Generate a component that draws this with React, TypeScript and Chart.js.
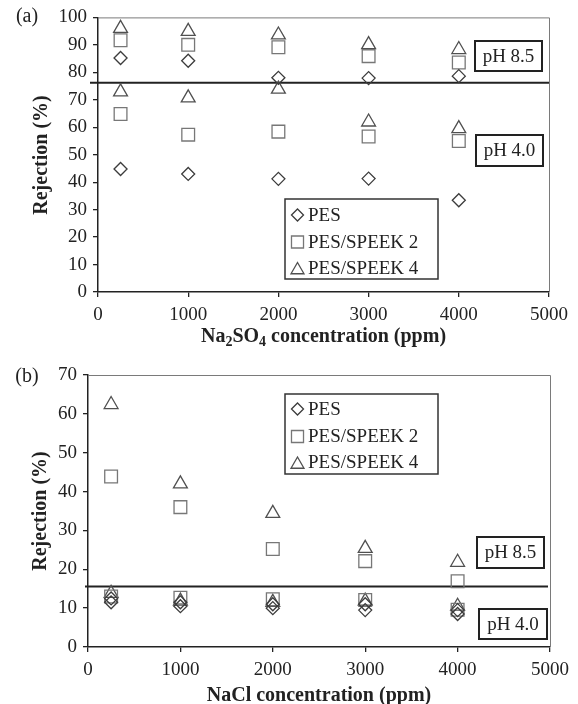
import React, { useEffect, useRef } from "react";
import { Chart, registerables } from "chart.js";

Chart.register(...registerables);

// ---------- data ----------
const concentrations = [250, 1000, 2000, 3000, 4000];
const xTickValues = [0, 1000, 2000, 3000, 4000, 5000];
const yTickValuesA = [0, 10, 20, 30, 40, 50, 60, 70, 80, 90, 100];
const yTickValuesB = [0, 10, 20, 30, 40, 50, 60, 70];
const seriesLabels = ["PES", "PES/SPEEK 2", "PES/SPEEK 4"];

// (a) Na2SO4
const pesA_pH85 = [85.2, 84.2, 78.0, 77.9, 78.6];
const speek2A_pH85 = [91.7, 90.0, 89.1, 85.9, 83.6];
const speek4A_pH85 = [96.0, 94.9, 93.6, 90.1, 88.3];
const pesA_pH40 = [44.8, 43.0, 41.2, 41.3, 33.4];
const speek2A_pH40 = [64.8, 57.3, 58.4, 56.6, 55.0];
const speek4A_pH40 = [72.9, 70.7, 73.9, 61.9, 59.5];
const dividerA = 76.2;

// (b) NaCl
const pesB_pH85 = [12.5, 11.5, 11.0, 11.0, 9.5];
const speek2B_pH85 = [43.9, 36.0, 25.2, 22.1, 16.9];
const speek4B_pH85 = [62.4, 42.0, 34.4, 25.4, 21.8];
const pesB_pH40 = [11.5, 10.5, 10.0, 9.5, 8.5];
const speek2B_pH40 = [13.0, 12.7, 12.3, 12.1, 9.6];
const speek4B_pH40 = [13.8, 11.8, 11.5, 11.8, 10.5];
const dividerB = 15.6;

// ---------- styling ----------
const SERIF = "'Liberation Serif', 'Times New Roman', serif";
const INK = "#222";
const markerStyles = [
  { style: "rectRot", radius: 6.5, color: "#3c3c3c" },
  { style: "rect", radius: 9, color: "#777" },
  { style: "triangle", radius: 8, color: "#505050" },
];

const W = 578;
const H = 352;

function pts(a: number[], b: number[]) {
  return [
    ...concentrations.map((x, i) => ({ x, y: a[i] })),
    ...concentrations.map((x, i) => ({ x, y: b[i] })),
  ];
}

function makeDatasets(series: number[][][]) {
  return series.map((pair, i) => ({
    label: seriesLabels[i],
    data: pts(pair[0], pair[1]),
    pointStyle: markerStyles[i].style,
    pointRadius: markerStyles[i].radius,
    pointHoverRadius: markerStyles[i].radius,
    pointBorderColor: markerStyles[i].color,
    pointBackgroundColor: "rgba(0,0,0,0)",
    pointBorderWidth: 1.3,
    borderColor: markerStyles[i].color,
    backgroundColor: "rgba(0,0,0,0)",
    showLine: false,
  }));
}

function drawMarker(ctx: CanvasRenderingContext2D, style: string, r: number, x: number, y: number) {
  ctx.beginPath();
  if (style === "rectRot") {
    ctx.moveTo(x - r, y);
    ctx.lineTo(x, y - r);
    ctx.lineTo(x + r, y);
    ctx.lineTo(x, y + r);
    ctx.closePath();
  } else if (style === "rect") {
    const s = Math.SQRT1_2 * r;
    ctx.rect(x - s, y - s, 2 * s, 2 * s);
  } else {
    let rad = 0;
    ctx.moveTo(x + Math.sin(rad) * r, y - Math.cos(rad) * r);
    rad += (2 * Math.PI) / 3;
    ctx.lineTo(x + Math.sin(rad) * r, y - Math.cos(rad) * r);
    rad += (2 * Math.PI) / 3;
    ctx.lineTo(x + Math.sin(rad) * r, y - Math.cos(rad) * r);
    ctx.closePath();
  }
  ctx.stroke();
}

type PanelSpec = {
  area: { left: number; right: number; top: number; bottom: number };
  yTicks: number[];
  yMax: number;
  series: number[][][];
  divider: number;
  dividerX: [number, number];
  panelLabel: string;
  panelLabelPos: [number, number];
  xTitle: { text: string; sub?: boolean };
  xTitleY: number;
  yTitlePos: [number, number];
  legend: { box: [number, number, number, number]; markerX: number; textX: number; rows: number[] };
  phBoxes: { text: string; rect: [number, number, number, number] }[];
};

function buildChart(canvas: HTMLCanvasElement, spec: PanelSpec) {
  const { area } = spec;
  const overlay = {
    id: "overlay",
    beforeDatasetsDraw(chart: any) {
      const ctx = chart.ctx as CanvasRenderingContext2D;
      const ca = chart.chartArea;
      ctx.save();
      // top & right frame
      ctx.strokeStyle = "#7a7a7a";
      ctx.lineWidth = 1;
      ctx.beginPath();
      ctx.moveTo(ca.left, ca.top + 0.5);
      ctx.lineTo(ca.right + 0.5, ca.top + 0.5);
      ctx.lineTo(ca.right + 0.5, ca.bottom);
      ctx.stroke();
      // divider line
      const yPix = chart.scales.y.getPixelForValue(spec.divider);
      ctx.strokeStyle = INK;
      ctx.lineWidth = 2;
      ctx.beginPath();
      ctx.moveTo(spec.dividerX[0], yPix);
      ctx.lineTo(spec.dividerX[1], yPix);
      ctx.stroke();
      ctx.restore();
    },
    afterDraw(chart: any) {
      const ctx = chart.ctx as CanvasRenderingContext2D;
      const ca = chart.chartArea;
      ctx.save();
      ctx.fillStyle = INK;
      // panel label
      ctx.font = `20px ${SERIF}`;
      ctx.textAlign = "center";
      ctx.textBaseline = "middle";
      ctx.fillText(spec.panelLabel, spec.panelLabelPos[0], spec.panelLabelPos[1]);

      // y title
      ctx.save();
      ctx.translate(spec.yTitlePos[0], spec.yTitlePos[1]);
      ctx.rotate(-Math.PI / 2);
      ctx.font = `bold 20px ${SERIF}`;
      ctx.textAlign = "center";
      ctx.textBaseline = "middle";
      ctx.fillText("Rejection (%)", 0, 0);
      ctx.restore();

      // x title
      const cx = (ca.left + ca.right) / 2;
      const big = `bold 20px ${SERIF}`;
      const small = `bold 14px ${SERIF}`;
      ctx.textBaseline = "middle";
      ctx.textAlign = "left";
      if (spec.xTitle.sub) {
        const parts: [string, boolean][] = [
          ["Na", false],
          ["2", true],
          ["SO", false],
          ["4", true],
          [" concentration (ppm)", false],
        ];
        let total = 0;
        parts.forEach(([t, s]) => {
          ctx.font = s ? small : big;
          total += ctx.measureText(t).width;
        });
        let x = cx - total / 2;
        parts.forEach(([t, s]) => {
          ctx.font = s ? small : big;
          ctx.fillText(t, x, spec.xTitleY + (s ? 5 : 0));
          x += ctx.measureText(t).width;
        });
      } else {
        ctx.font = big;
        ctx.textAlign = "center";
        ctx.fillText(spec.xTitle.text, cx, spec.xTitleY);
      }

      // pH boxes
      ctx.font = `19px ${SERIF}`;
      ctx.textAlign = "center";
      ctx.textBaseline = "middle";
      spec.phBoxes.forEach((b) => {
        const [x, y, w, h] = b.rect;
        ctx.fillStyle = "#fff";
        ctx.fillRect(x, y, w, h);
        ctx.strokeStyle = INK;
        ctx.lineWidth = 2;
        ctx.strokeRect(x, y, w, h);
        ctx.fillStyle = INK;
        ctx.fillText(b.text, x + w / 2, y + h / 2 + 1);
      });

      // legend
      const lg = spec.legend;
      const [lx, ly, lw, lh] = lg.box;
      ctx.fillStyle = "#fff";
      ctx.fillRect(lx, ly, lw, lh);
      ctx.strokeStyle = "#333";
      ctx.lineWidth = 1.5;
      ctx.strokeRect(lx, ly, lw, lh);
      chart.data.datasets.forEach((ds: any, i: number) => {
        ctx.strokeStyle = ds.pointBorderColor;
        ctx.lineWidth = 1.3;
        const r = i === 1 ? 8.5 : i === 2 ? 7.5 : 6;
        drawMarker(ctx, ds.pointStyle, r, lg.markerX, lg.rows[i] + (i === 2 ? 2 : 0));
        ctx.fillStyle = INK;
        ctx.font = `19px ${SERIF}`;
        ctx.textAlign = "left";
        ctx.textBaseline = "middle";
        ctx.fillText(ds.label, lg.textX, lg.rows[i] + 1);
      });
      ctx.restore();
    },
  };

  return new Chart(canvas, {
    type: "scatter",
    data: { datasets: makeDatasets(spec.series) as any },
    options: {
      animation: false,
      responsive: false,
      devicePixelRatio: 1,
      layout: {
        padding: { left: 0, right: W - area.right, top: area.top, bottom: 0 },
      },
      plugins: {
        legend: { display: false },
        tooltip: { enabled: false },
        title: { display: false },
      },
      scales: {
        x: {
          type: "linear",
          min: 0,
          max: 5000,
          afterBuildTicks: (s: any) => {
            s.ticks = xTickValues.map((v) => ({ value: v }));
          },
          afterFit: (s: any) => {
            s.height = H - area.bottom;
          },
          grid: {
            drawOnChartArea: false,
            drawTicks: true,
            tickLength: 5,
            color: INK,
            lineWidth: 1.3,
          },
          border: { color: INK, width: 1.5 },
          ticks: {
            font: { family: SERIF, size: 19 },
            color: INK,
            padding: 7,
            maxRotation: 0,
            autoSkip: false,
            callback: (v: any) => String(v),
          },
        },
        y: {
          type: "linear",
          min: 0,
          max: spec.yMax,
          afterBuildTicks: (s: any) => {
            s.ticks = spec.yTicks.map((v) => ({ value: v }));
          },
          afterFit: (s: any) => {
            s.width = area.left;
          },
          grid: {
            drawOnChartArea: false,
            drawTicks: true,
            tickLength: 5,
            color: INK,
            lineWidth: 1.3,
          },
          border: { color: INK, width: 1.5 },
          ticks: {
            font: { family: SERIF, size: 19 },
            color: INK,
            padding: 6,
            autoSkip: false,
            callback: (v: any) => String(v),
          },
        },
      },
    },
    plugins: [overlay as any],
  });
}

const specA: PanelSpec = {
  area: { left: 98, right: 549, top: 17, bottom: 292 },
  yTicks: yTickValuesA,
  yMax: 100,
  series: [
    [pesA_pH85, pesA_pH40],
    [speek2A_pH85, speek2A_pH40],
    [speek4A_pH85, speek4A_pH40],
  ],
  divider: dividerA,
  dividerX: [90, 549],
  panelLabel: "(a)",
  panelLabelPos: [27, 17],
  xTitle: { text: "Na2SO4 concentration (ppm)", sub: true },
  xTitleY: 337,
  yTitlePos: [42, 155],
  legend: { box: [285, 199, 153, 80], markerX: 297.5, textX: 308, rows: [215, 242, 268] },
  phBoxes: [
    { text: "pH 8.5", rect: [475, 41, 67, 30] },
    { text: "pH 4.0", rect: [476, 135, 67, 31] },
  ],
};

const specB: PanelSpec = {
  area: { left: 88, right: 550, top: 23, bottom: 295 },
  yTicks: yTickValuesB,
  yMax: 70,
  series: [
    [pesB_pH85, pesB_pH40],
    [speek2B_pH85, speek2B_pH40],
    [speek4B_pH85, speek4B_pH40],
  ],
  divider: dividerB,
  dividerX: [85, 548],
  panelLabel: "(b)",
  panelLabelPos: [27, 25],
  xTitle: { text: "NaCl concentration (ppm)" },
  xTitleY: 344,
  yTitlePos: [41, 159],
  legend: { box: [285, 42, 153, 80], markerX: 297.5, textX: 308, rows: [57, 84.5, 110.5] },
  phBoxes: [
    { text: "pH 8.5", rect: [477, 185, 67, 31] },
    { text: "pH 4.0", rect: [479, 257, 68, 30] },
  ],
};

function Panel({ spec }: { spec: PanelSpec }) {
  const ref = useRef<HTMLCanvasElement>(null);
  useEffect(() => {
    const chart = buildChart(ref.current!, spec);
    return () => chart.destroy();
  }, [spec]);
  return (
    <canvas
      ref={ref}
      width={W}
      height={H}
      style={{ display: "block", width: W, height: H }}
    />
  );
}

export default function App() {
  return (
    <div
      style={{
        position: "absolute",
        left: 0,
        top: 0,
        width: W,
        height: 704,
        background: "#fff",
        overflow: "hidden",
      }}
    >
      <Panel spec={specA} />
      <Panel spec={specB} />
    </div>
  );
}
